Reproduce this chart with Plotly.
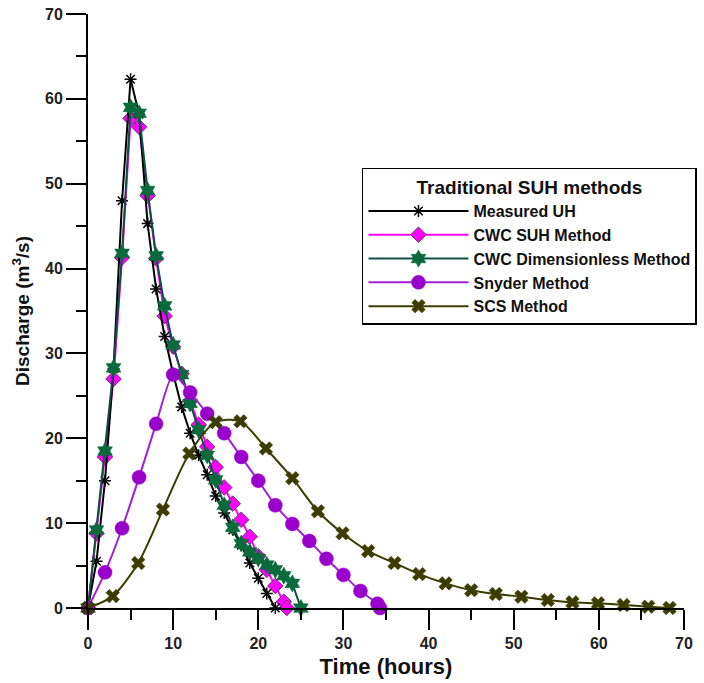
import plotly.graph_objects as go

# ---------------- data ----------------
measured_t = list(range(0, 23))
measured_q = [0, 5.5, 15.0, 28.2, 48.0, 62.3, 58.2, 45.3, 37.6, 32.0, 27.6, 23.7,
              20.6, 18.0, 15.7, 13.2, 11.2, 9.2, 7.4, 5.3, 3.5, 1.7, 0]

cwc_suh_t = list(range(0, 24)) + [23.35]
cwc_suh_q = [0, 8.8, 17.8, 27.0, 41.3, 57.7, 56.7, 48.6, 41.2, 34.4, 30.8, 27.6,
             24.4, 21.6, 19.0, 16.6, 14.2, 12.3, 10.4, 8.4, 6.1, 4.5, 2.6, 0.75, 0]

cwc_dim_t = list(range(0, 26))
cwc_dim_q = [0, 9.2, 18.5, 28.3, 41.8, 59.0, 58.3, 49.2, 41.5, 35.6, 31.0, 27.5,
             24.1, 21.0, 18.0, 15.1, 12.1, 9.5, 7.6, 6.6, 5.85, 5.07, 4.5, 3.8, 2.9, 0]

snyder_t = [0, 2, 4, 6, 8, 10, 12, 14, 16, 18, 20, 22, 24, 26, 28, 30, 32, 34, 34.3]
snyder_q = [0, 4.2, 9.4, 15.4, 21.7, 27.5, 25.4, 22.9, 20.6, 17.8, 15.0, 12.1,
            9.9, 7.9, 5.8, 3.9, 2.0, 0.5, 0]

scs_t = [0, 2.9, 5.9, 8.8, 11.9, 15.0, 17.9, 20.9, 24.0, 27.0, 29.9, 32.9, 36.0,
         38.9, 42.0, 45.0, 47.9, 50.9, 54.0, 56.9, 59.9, 62.9, 65.8, 68.3]
scs_q = [0, 1.4, 5.3, 11.6, 18.2, 21.9, 22.0, 18.8, 15.3, 11.4, 8.8, 6.7, 5.3,
         4.0, 2.9, 2.1, 1.65, 1.33, 0.94, 0.67, 0.55, 0.35, 0.15, 0]

names = ["Measured UH", "CWC SUH Method", "CWC Dimensionless Method",
         "Snyder Method", "SCS Method"]

# ---------------- figure ----------------
FONT = "Liberation Sans, Arial, sans-serif"
fig = go.Figure()

fig.add_trace(go.Scatter(
    x=cwc_suh_t, y=cwc_suh_q, name=names[1], mode="lines+markers",
    line=dict(color="#FF00FF", width=2),
    marker=dict(symbol="diamond", size=12, color="#FF00FF",
                line=dict(color="#333333", width=0.8)),
    cliponaxis=False, legendrank=1))

fig.add_trace(go.Scatter(
    x=measured_t, y=measured_q, name=names[0], mode="lines+markers",
    line=dict(color="#000000", width=2),
    marker=dict(symbol="asterisk-open", size=10,
                line=dict(color="#000000", width=1.5)),
    cliponaxis=False, legendrank=0))

fig.add_trace(go.Scatter(
    x=cwc_dim_t, y=cwc_dim_q, name=names[2], mode="lines+markers",
    line=dict(color="#0E4F45", width=2),
    marker=dict(symbol="hexagram", size=13, color="#0A6A3C",
                line=dict(color="#0A6A3C", width=0.5)),
    cliponaxis=False, legendrank=2))

fig.add_trace(go.Scatter(
    x=snyder_t, y=snyder_q, name=names[3], mode="lines+markers",
    line=dict(color="#A020D8", width=2, shape="spline", smoothing=0.6),
    marker=dict(symbol="circle", size=14, color="#9900CC",
                line=dict(color="#9900CC", width=0.5)),
    cliponaxis=False, legendrank=3))

fig.add_trace(go.Scatter(
    x=scs_t, y=scs_q, name=names[4], mode="lines+markers",
    line=dict(color="#3C3C00", width=2, shape="spline", smoothing=0.8),
    marker=dict(symbol="x", size=12, color="#3C3C00",
                line=dict(color="#3C3C00", width=0.5)),
    cliponaxis=False, legendrank=4))

axis_common = dict(
    showline=True, linecolor="black", linewidth=2,
    ticks="outside", ticklen=20, tickwidth=2, tickcolor="black",
    dtick=10, showgrid=False, zeroline=False,
    minor=dict(ticks="outside", ticklen=10, tickwidth=2, tickcolor="black", dtick=5),
    tickfont=dict(family=FONT, size=16, color="#222222", weight="bold"),
)

fig.update_layout(
    width=704, height=683,
    margin=dict(l=88, r=20, t=14, b=75, autoexpand=False),
    plot_bgcolor="white", paper_bgcolor="white",
    xaxis=dict(range=[0, 70], title=dict(text="Time (hours)", standoff=7,
               font=dict(family=FONT, size=22, color="#111111", weight="bold")),
               **axis_common),
    yaxis=dict(range=[0, 70], title=dict(text="Discharge (m<sup>3</sup>/s)", standoff=10,
               font=dict(family=FONT, size=19, color="#111111", weight="bold")),
               **axis_common),
    legend=dict(
        x=0.4597, y=0.741, xanchor="left", yanchor="top",
        bgcolor="white", bordercolor="black", borderwidth=1.5,
        traceorder="normal",
        font=dict(family=FONT, size=16, color="#111111", weight="bold"),
        title=dict(text="Traditional SUH methods", side="top center",
                   font=dict(family=FONT, size=19, color="#111111", weight="bold")),
        itemwidth=100, tracegroupgap=0,
    ),
    showlegend=True,
)

fig.write_html("out.html")
